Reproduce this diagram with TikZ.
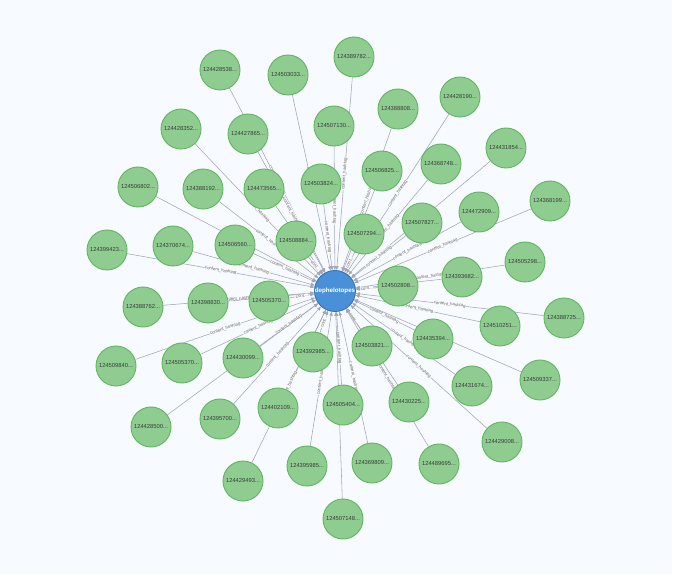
\documentclass[tikz,border=0pt]{standalone}
\usepackage{fontspec}
\setmainfont{Liberation Sans}
\usetikzlibrary{arrows.meta}
\pgfdeclarelayer{bglayer}
\pgfdeclarelayer{edgelayer}
\pgfsetlayers{bglayer,edgelayer,main}
\definecolor{bgc}{RGB}{247,251,255}
\definecolor{leaffill}{RGB}{143,204,143}
\definecolor{leafborder}{RGB}{98,180,98}
\definecolor{leaftext}{RGB}{55,60,60}
\definecolor{hubfill}{RGB}{74,144,217}
\definecolor{hubborder}{RGB}{52,112,192}
\definecolor{edgec}{RGB}{160,166,182}
\definecolor{lblc}{RGB}{110,100,95}
\newcommand\chlbl{content\_hashtag}
\newcommand\chshort{cont...}
\begin{document}
\begin{tikzpicture}[x=1pt,y=-1pt,
  leaf/.style={circle,draw=leafborder,fill=leaffill,line width=0.9pt,minimum size=40pt,inner sep=0pt,font=\fontsize{5.8}{6}\selectfont,text=leaftext},
  hub/.style={circle,draw=hubborder,fill=hubfill,line width=0.9pt,minimum size=41pt,inner sep=0pt,font=\fontsize{6.2}{7}\selectfont\bfseries,text=white},
  edgeline/.style={draw=edgec,line width=0.55pt,-{Triangle[length=4pt,width=3.2pt]}},
  lbl/.style={font=\fontsize{4.3}{5}\selectfont,text=lblc,fill=bgc,inner sep=0.4pt,sloped}]
\begin{pgfonlayer}{bglayer}
\fill[white] (0,0) rectangle (678,588);
\fill[bgc] (0,0) rectangle (672,574);
\end{pgfonlayer}
\useasboundingbox (0,0) rectangle (678,588);
\node[hub] (c) at (335,291) {dephelotopes};
\foreach \n/\x/\y/\t/\l in {
 1/220/70/124428538/\chlbl,
 2/288/75/124503033/\chlbl,
 3/354/57/124389782/\chlbl,
 4/181/129/124428352/\chlbl,
 5/248/134/124427865/\chlbl,
 6/334/126/124507130/\chlbl,
 7/398/109/124388808/\chlbl,
 8/460/97/124428190/\chlbl,
 9/506/148/124431854/\chlbl,
 10/441/164/124368748/\chlbl,
 11/382/171/124506825/\chlbl,
 12/321/184/124503824/\chlbl,
 13/264/189/124473565/\chlbl,
 14/203/189/124388192/\chlbl,
 15/138/187/124506802/\chlbl,
 16/550/201/124368199/\chlbl,
 17/479/212/124472909/\chlbl,
 18/422/223/124507827/\chlbl,
 19/364/234/124507294/\chshort,
 20/296/241/124508884/\chshort,
 21/235/245/124506560/\chlbl,
 22/173/246/124370674/\chlbl,
 23/107/250/124399423/\chlbl,
 24/525/262/124505298/\chlbl,
 25/462/277/124393682/\chlbl,
 26/398/286/124502808/\chshort,
 27/143/307/124388762/\chlbl,
 28/208/303/124398830/\chlbl,
 29/269/301/124505370/\chshort,
 30/564/318/124388725/\chlbl,
 31/500/326/124510251/\chlbl,
 32/433/339/124435394/\chlbl,
 33/372/346/124503821/\chshort,
 34/313/352/124392985/\chshort,
 35/243/358/124430099/\chlbl,
 36/182/363/124505370/\chlbl,
 37/116/366/124509840/\chlbl,
 38/540/380/124509337/\chlbl,
 39/472/386/124431674/\chlbl,
 40/409/402/124430225/\chlbl,
 41/343/405/124505404/\chlbl,
 42/278/408/124402109/\chlbl,
 43/220/419/124395700/\chlbl,
 44/151/427/124428500/\chlbl,
 45/502/442/124429008/\chlbl,
 46/439/464/124489695/\chlbl,
 47/372/463/124369809/\chlbl,
 48/307/466/124395985/\chlbl,
 49/243/481/124429493/\chlbl,
 50/343/519/124507148/\chlbl}{
  \node[leaf] (n\n) at (\x,\y) {\t...};
  \begin{pgfonlayer}{edgelayer}
  \draw[edgeline] (n\n) -- node[lbl]{\l} (c);
  \end{pgfonlayer}
}
\end{tikzpicture}
\end{document}
